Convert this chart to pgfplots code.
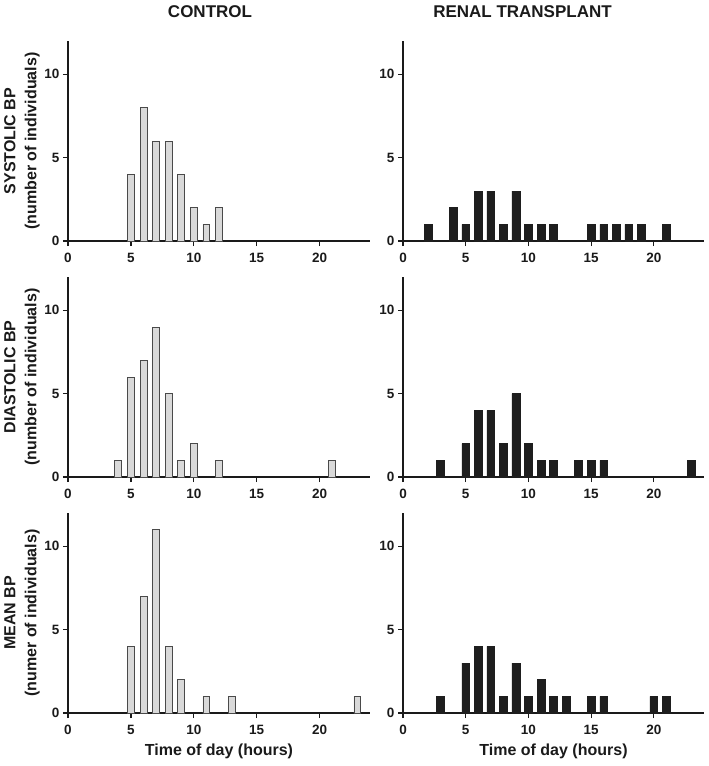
\documentclass[border=0pt]{standalone}
\usepackage{fontspec}
\setmainfont{Liberation Sans}
\usepackage{pgfplots}
\pgfplotsset{compat=1.18}
\definecolor{barg}{HTML}{D9D9D9}
\definecolor{barge}{HTML}{4A4A4A}
\definecolor{barb}{HTML}{1E1E1E}
\definecolor{txt}{HTML}{1A1A1A}
\pgfplotsset{
  panel/.style={
    scale only axis, width=302pt, height=200pt,
    xmin=0, xmax=24, ymin=0, ymax=12,
    axis lines=left, axis line style={-, line width=1.5pt, color=txt},
    xtick={0,5,10,15,20}, ytick={0,5,10},
    tick align=outside, major tick length=5pt,
    tick style={line width=1.2pt, color=txt},
    /pgf/number format/assume math mode=true,
    tick label style={font=\fontsize{13.5}{16}\selectfont\bfseries, text=txt},
    xticklabel style={yshift=-4pt},
    ylabel style={at={(axis description cs:0,0.5)}, anchor=center, yshift=46pt,
      align=center, font=\fontsize{16}{21}\selectfont\bfseries, text=txt},
    xlabel style={at={(axis description cs:0.5,0)}, anchor=center, yshift=-38pt,
      font=\fontsize{16}{19}\selectfont\bfseries, text=txt},
    title style={at={(axis description cs:0.5,1)}, anchor=center, yshift=23pt,
      font=\fontsize{17}{20}\selectfont\bfseries, text=txt},
    ybar, clip=false,
  },
  ctrl/.style={fill=barg, draw=barge, line width=0.8pt, bar width=0.55},
  rt/.style={fill=barb, draw=barb, line width=0.5pt, bar width=0.62},
}
\begin{document}
\begin{tikzpicture}
\path[use as bounding box] (0,0) rectangle (709pt,-766pt);
% Row 1
\begin{axis}[panel, at={(68pt,-241pt)}, anchor=south west,
  title={CONTROL}, title style={xshift=-9pt},
  ylabel={SYSTOLIC BP\\(number of individuals)}]
\addplot[ctrl] coordinates {(5,4) (6,8) (7,6) (8,6) (9,4) (10,2) (11,1) (12,2)};
\end{axis}
\begin{axis}[panel, width=301pt, at={(403pt,-241pt)}, anchor=south west,
  title={RENAL TRANSPLANT}, title style={xshift=-31pt}]
\addplot[rt] coordinates {(2,1) (4,2) (5,1) (6,3) (7,3) (8,1) (9,3) (10,1) (11,1) (12,1) (15,1) (16,1) (17,1) (18,1) (19,1) (21,1)};
\end{axis}
% Row 2
\begin{axis}[panel, at={(68pt,-477pt)}, anchor=south west,
  ylabel={DIASTOLIC BP\\(number of individuals)}]
\addplot[ctrl] coordinates {(4,1) (5,6) (6,7) (7,9) (8,5) (9,1) (10,2) (12,1) (21,1)};
\end{axis}
\begin{axis}[panel, width=301pt, at={(403pt,-477pt)}, anchor=south west]
\addplot[rt] coordinates {(3,1) (5,2) (6,4) (7,4) (8,2) (9,5) (10,2) (11,1) (12,1) (14,1) (15,1) (16,1) (23,1)};
\end{axis}
% Row 3
\begin{axis}[panel, at={(68pt,-713pt)}, anchor=south west,
  ylabel={MEAN BP\\(numer of individuals)},
  xlabel={Time of day (hours)}]
\addplot[ctrl] coordinates {(5,4) (6,7) (7,11) (8,4) (9,2) (11,1) (13,1) (23,1)};
\end{axis}
\begin{axis}[panel, width=301pt, at={(403pt,-713pt)}, anchor=south west,
  xlabel={Time of day (hours)}]
\addplot[rt] coordinates {(3,1) (5,3) (6,4) (7,4) (8,1) (9,3) (10,1) (11,2) (12,1) (13,1) (15,1) (16,1) (20,1) (21,1)};
\end{axis}
\end{tikzpicture}
\end{document}
